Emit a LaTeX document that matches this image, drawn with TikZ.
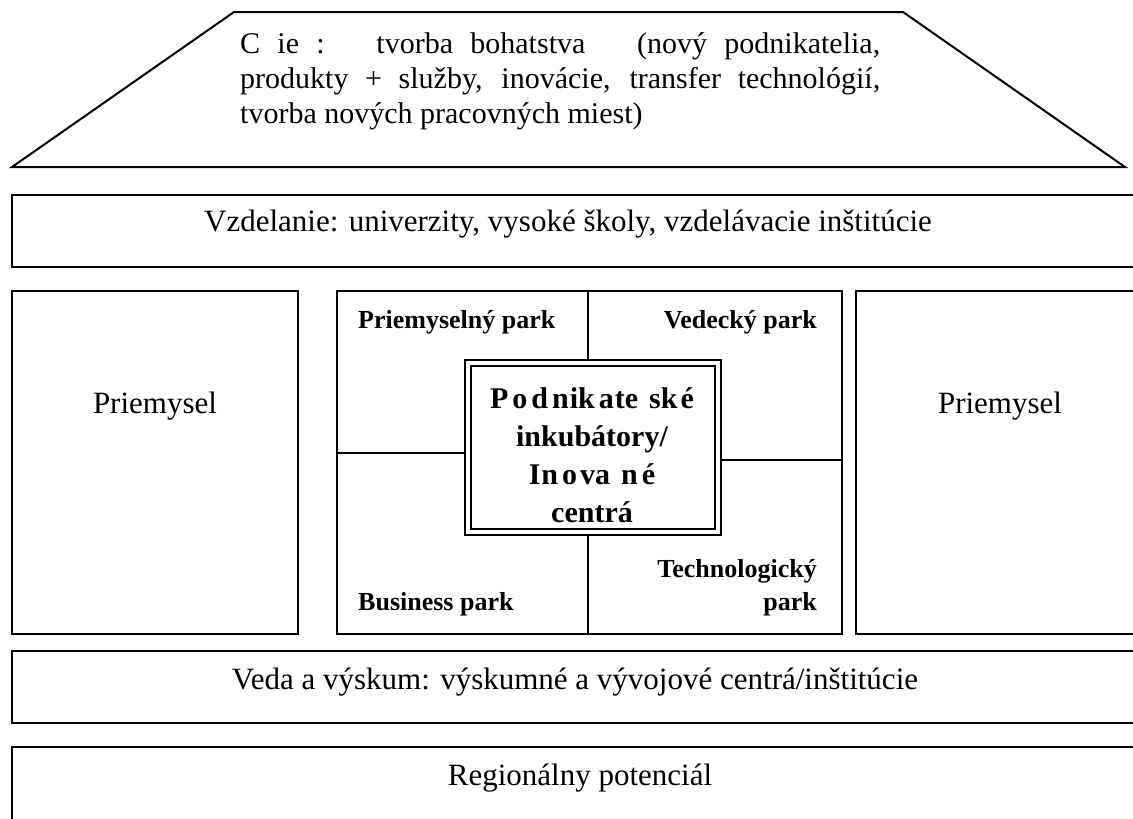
\documentclass[tikz,border=0pt]{standalone}
\usepackage{fontspec}
\setmainfont{Liberation Serif}
\begin{document}
\begin{tikzpicture}[x=1pt,y=-1pt,
  frame/.style={draw=black,line width=2pt},
  thin/.style={draw=black,line width=1.5pt},
  big/.style={font=\fontsize{31}{37}\selectfont,inner sep=0pt},
  goaltext/.style={font=\fontsize{30}{35}\selectfont,inner sep=0pt},
  corner/.style={font=\bfseries\fontsize{26}{33}\selectfont,inner sep=0pt},
  centre/.style={font=\bfseries\fontsize{30}{38}\selectfont,inner sep=0pt,align=center}
]
\useasboundingbox (0,0) rectangle (1133,819);
\clip (0,0) rectangle (1133,819);
\fill[white] (0,0) rectangle (1133,819);
% goal trapezoid
\draw[frame,line join=miter] (234,12) -- (903,12) -- (1125,167) -- (12,167) -- cycle;
\node[goaltext,anchor=north west,text width=640pt,align=justify] (goal) at (240,32)
 {C ie :\ \ \ tvorba bohatstva\ \ \ (nový podnikatelia,\linebreak produkty + služby, inovácie, transfer technológií,\linebreak tvorba nových pracovných miest)};
% education
\draw[frame] (12,195) rectangle (1150,267);
\node[big] (edu) at (568,224) {Vzdelanie: univerzity, vysoké školy, vzdelávacie inštitúcie};
% middle row
\draw[frame] (12,291) rectangle (298,634);
\node[big] (indL) at (155,406) {Priemysel};
\draw[frame] (856,291) rectangle (1150,634);
\node[big] (indR) at (1000,406) {Priemysel};
\draw[thin] (337,291) rectangle (842,634);
\coordinate (ct) at (588,291);
\coordinate (cb) at (588,634);
\coordinate (cl) at (337,453);
\coordinate (cr) at (842,460);
\node[draw=black,line width=1.6pt,minimum width=256pt,minimum height=175pt,inner sep=0pt] (inc) at (593,447.5) {};
\node[draw=black,line width=1.6pt,minimum width=244pt,minimum height=163pt,inner sep=0pt] (incin) at (593,447.5) {};
\node[centre] (inctext) at (592,455) {P\kern4pt o\kern4pt d\kern4pt n\kern1pt ik\kern4pt a\kern1pt te\kern11pt sk\kern3pt é\\inkubátory/\\I\kern1pt n\kern4pt o\kern3pt va\kern11pt n\kern4pt é\\centrá};
\draw[thin] (ct) -- (ct |- inc.north);
\draw[thin] (cb) -- (cb |- inc.south);
\draw[thin] (cl) -- (cl -| inc.west);
\draw[thin] (cr) -- (cr -| inc.east);
\node[corner,anchor=base west] (pp) at (358,328) {Priemyselný park};
\node[corner,anchor=base east] (vp) at (817,328) {Vedecký park};
\node[corner,anchor=base west] (bp) at (358,610) {Business park};
\node[corner,anchor=base east,align=right] (tp) at (817,610) {Technologický\\park};
% research
\draw[frame] (12,651) rectangle (1150,723);
\node[big] (res) at (575,682) {Veda a výskum: výskumné a vývojové centrá/inštitúcie};
% regional
\draw[frame] (12,747) rectangle (1150,840);
\node[big] (reg) at (580,778) {Regionálny potenciál};
\end{tikzpicture}
\end{document}
